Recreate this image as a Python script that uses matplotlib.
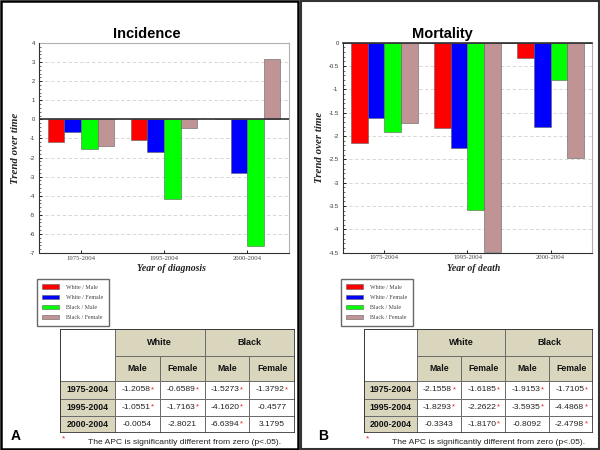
import matplotlib
matplotlib.use("Agg")
import matplotlib.pyplot as plt
from matplotlib.patches import Rectangle, Patch
from matplotlib.ticker import MultipleLocator, AutoMinorLocator
import numpy as np

# ---------------- data ----------------
periods = ['1975-2004', '1995-2004', '2000-2004']
series_labels = ['White / Male', 'White / Female', 'Black / Male', 'Black / Female']
series_colors = ['#ff0000', '#0000ff', '#00ff00', '#c09494']

inc_white_male = [-1.2058, -1.0551, -0.0054]
inc_white_female = [-0.6589, -1.7163, -2.8021]
inc_black_male = [-1.5273, -4.1620, -6.6394]
inc_black_female = [-1.3792, -0.4577, 3.1795]
inc_sig_white_male = [True, True, False]
inc_sig_white_female = [True, True, False]
inc_sig_black_male = [True, True, True]
inc_sig_black_female = [True, False, False]

mort_white_male = [-2.1558, -1.8293, -0.3343]
mort_white_female = [-1.6185, -2.2622, -1.8170]
mort_black_male = [-1.9153, -3.5935, -0.8092]
mort_black_female = [-1.7105, -4.4868, -2.4798]
mort_sig_white_male = [True, True, False]
mort_sig_white_female = [True, True, True]
mort_sig_black_male = [True, True, False]
mort_sig_black_female = [True, True, True]

table_groups = ['White', 'Black']
table_sexes = ['Male', 'Female', 'Male', 'Female']
footnote = 'The APC is significantly different from zero (p<.05).'

W, H = 600, 450
fig = plt.figure(figsize=(6, 4.5), dpi=100)
fig.patch.set_facecolor('white')

SERIF = 'Liberation Serif'
SANS = 'Liberation Sans'
HEAD_BG = '#d9d6bd'
GRID_EDGE = '#6b6b6b'


def rect(x0, y0, x1, y1):
    return [x0 / W, 1 - y1 / H, (x1 - x0) / W, (y1 - y0) / H]


def fx(x):
    return x / W


def fy(y):
    return 1 - y / H


def draw_panel(series, sigs, title, title_x, xlabel, xlabel_x, ax_box, ylim,
               ystep, legend_box, tab_cols, tab_rows, star_x, foot_x, ylabel_x):
    ax = fig.add_axes(rect(*ax_box))
    x = np.arange(len(periods))
    bw = 0.2
    for i, (vals, col) in enumerate(zip(series, series_colors)):
        ax.bar(x + (i - 1.5) * bw, vals, width=bw, color=col,
               edgecolor='#606060', linewidth=0.4, zorder=3)
    ax.set_xlim(-0.5, len(periods) - 0.5)
    ax.set_ylim(*ylim)
    ax.yaxis.set_major_locator(MultipleLocator(ystep))
    ax.yaxis.set_minor_locator(AutoMinorLocator(5))
    ax.yaxis.set_major_formatter(plt.FuncFormatter(lambda v, p: f'{v:g}'))
    ax.set_xticks(x)
    ax.set_xticklabels(periods, fontsize=4.8, family=SERIF, color='#444444')
    ax.grid(axis='y', which='major', color='#d0d0d0', linestyle=(0, (4, 3)),
            linewidth=0.6, zorder=0)
    ax.axhline(0, color='#303030', linewidth=1.2, zorder=4)
    for lab in ax.get_yticklabels():
        lab.set_fontsize(4.2)
        lab.set_family(SANS)
        lab.set_color('#333333')
    ax.tick_params(axis='y', which='major', length=2.5, width=0.6, direction='in', pad=3)
    ax.tick_params(axis='y', which='minor', length=1.5, width=0.4, direction='in')
    ax.tick_params(axis='x', length=2, width=0.6, direction='in', pad=2)
    ax.spines['left'].set_color('#303030')
    ax.spines['bottom'].set_color('#303030')
    ax.spines['top'].set_color('#b0b0b0')
    ax.spines['right'].set_color('#b0b0b0')
    for s in ax.spines.values():
        s.set_linewidth(0.8)
    if ylim[1] == 0:
        ax.spines['top'].set_color('#303030')
        ax.spines['top'].set_linewidth(1.2)

    fig.text(fx(title_x), fy(34), title, ha='center', va='center',
             fontsize=10.5, fontweight='bold', family=SANS)
    fig.text(fx(ylabel_x), fy((ax_box[1] + ax_box[3]) / 2), 'Trend over time',
             rotation=90, ha='center', va='center', fontsize=7.8,
             fontweight='bold', fontstyle='italic', family=SERIF, color='#222222')
    fig.text(fx(xlabel_x), fy(268.5), xlabel, ha='center', va='center',
             fontsize=7, fontweight='bold', fontstyle='italic', family=SERIF,
             color='#222222')

    # legend
    handles = [Patch(facecolor=c, edgecolor='#606060', linewidth=0.4)
               for c in series_colors]
    lx0, ly0, lx1, ly1 = legend_box
    leg = fig.legend(handles, series_labels, loc='upper left',
                     bbox_to_anchor=(fx(lx0), fy(ly0)),
                     prop={'family': SERIF, 'size': 4.3},
                     handlelength=2.8, handleheight=0.7, labelspacing=0.85,
                     borderpad=0.9, handletextpad=1.2, borderaxespad=0,
                     fancybox=False, frameon=True)
    leg.get_frame().set_edgecolor('#444444')
    leg.get_frame().set_linewidth(1.0)
    for t in leg.get_texts():
        t.set_color('#444444')

    # table
    tx0, tx1 = tab_cols[0], tab_cols[-1]
    ty0, ty1 = tab_rows[0], tab_rows[-1]
    tax = fig.add_axes(rect(tx0, ty0, tx1, ty1))
    tax.set_xlim(tx0, tx1)
    tax.set_ylim(ty1, ty0)
    tax.axis('off')

    def cell(c0, c1, r0, r1, text='', bg='white', bold=False, size=6.2):
        tax.add_patch(Rectangle((tab_cols[c0], tab_rows[r0]),
                                tab_cols[c1] - tab_cols[c0],
                                tab_rows[r1] - tab_rows[r0],
                                facecolor=bg, edgecolor=GRID_EDGE, linewidth=0.7,
                                zorder=1))
        if text:
            tax.text((tab_cols[c0] + tab_cols[c1]) / 2,
                     (tab_rows[r0] + tab_rows[r1]) / 2, text,
                     ha='center', va='center', fontsize=size,
                     fontweight='bold' if bold else 'normal', family=SANS,
                     color='#111111', zorder=3)

    cell(0, 1, 0, 2)
    cell(1, 3, 0, 1, table_groups[0], HEAD_BG, True, 6.5)
    cell(3, 5, 0, 1, table_groups[1], HEAD_BG, True, 6.5)
    for j, sx in enumerate(table_sexes):
        cell(j + 1, j + 2, 1, 2, sx, HEAD_BG, True, 6.3)
    for r, per in enumerate(periods):
        cell(0, 1, r + 2, r + 3, per, HEAD_BG, True, 6.3)
        for j in range(4):
            cell(j + 1, j + 2, r + 2, r + 3, '', 'white')
            v = series[j][r]
            starred = sigs[j][r]
            cx = (tab_cols[j + 1] + tab_cols[j + 2]) / 2 - (1.5 if starred else 0)
            cy = (tab_rows[r + 2] + tab_rows[r + 3]) / 2
            t = tax.text(cx, cy, f'{v:.4f}', ha='center', va='center',
                         fontsize=6.1, family=SANS, color='#222222', zorder=3)
            if starred:
                tax.annotate('*', xy=(1, 0), xycoords=t, xytext=(0.3, 1.6),
                             textcoords='offset points', ha='left', va='baseline',
                             fontsize=5.5, color='#e02020', family=SANS,
                             zorder=3)
    tax.add_patch(Rectangle((tx0, ty0), tx1 - tx0, ty1 - ty0, fill=False,
                            edgecolor='#333333', linewidth=1.2, zorder=4))

    fig.text(fx(star_x), fy(439), '*', ha='center', va='center', fontsize=6,
             color='#e02020', family=SANS)
    fig.text(fx(foot_x), fy(442), footnote, ha='center', va='center',
             fontsize=6.1, family=SANS, color='#222222')
    return ax


draw_panel([inc_white_male, inc_white_female, inc_black_male, inc_black_female],
           [inc_sig_white_male, inc_sig_white_female, inc_sig_black_male, inc_sig_black_female],
           'Incidence', 147, 'Year of diagnosis', 171,
           (39.5, 43, 288.7, 253), (-7, 4), 1,
           (37, 279, 104, 327),
           [60, 114.7, 160, 204.7, 249, 295],
           [329, 355.7, 381, 398.7, 416, 433],
           63, 185, 16)

draw_panel([mort_white_male, mort_white_female, mort_black_male, mort_black_female],
           [mort_sig_white_male, mort_sig_white_female, mort_sig_black_male, mort_sig_black_female],
           'Mortality', 442, 'Year of death', 474,
           (342.7, 42.7, 592.3, 252.7), (-4.5, 0), 0.5,
           (341, 279, 408, 327),
           [364, 416.7, 461.3, 505.3, 549.3, 593],
           [329, 355.7, 381, 398.7, 416, 433],
           367, 489, 319)

fig.text(fx(16), fy(436), 'A', ha='center', va='center', fontsize=10,
         fontweight='bold', family=SANS)
fig.text(fx(323), fy(436), 'B', ha='center', va='center', fontsize=10,
         fontweight='bold', family=SANS)

# panel frames
fig.add_artist(Rectangle((fx(1), fy(449)), (298 - 1) / W, 448 / H,
                         transform=fig.transFigure, fill=False,
                         edgecolor='black', linewidth=1.8))
fig.add_artist(Rectangle((fx(300.5), fy(449)), (598.5 - 300.5) / W, 448 / H,
                         transform=fig.transFigure, fill=False,
                         edgecolor='#333333', linewidth=1.5))

fig.savefig('out.png', dpi=100, facecolor='white')
